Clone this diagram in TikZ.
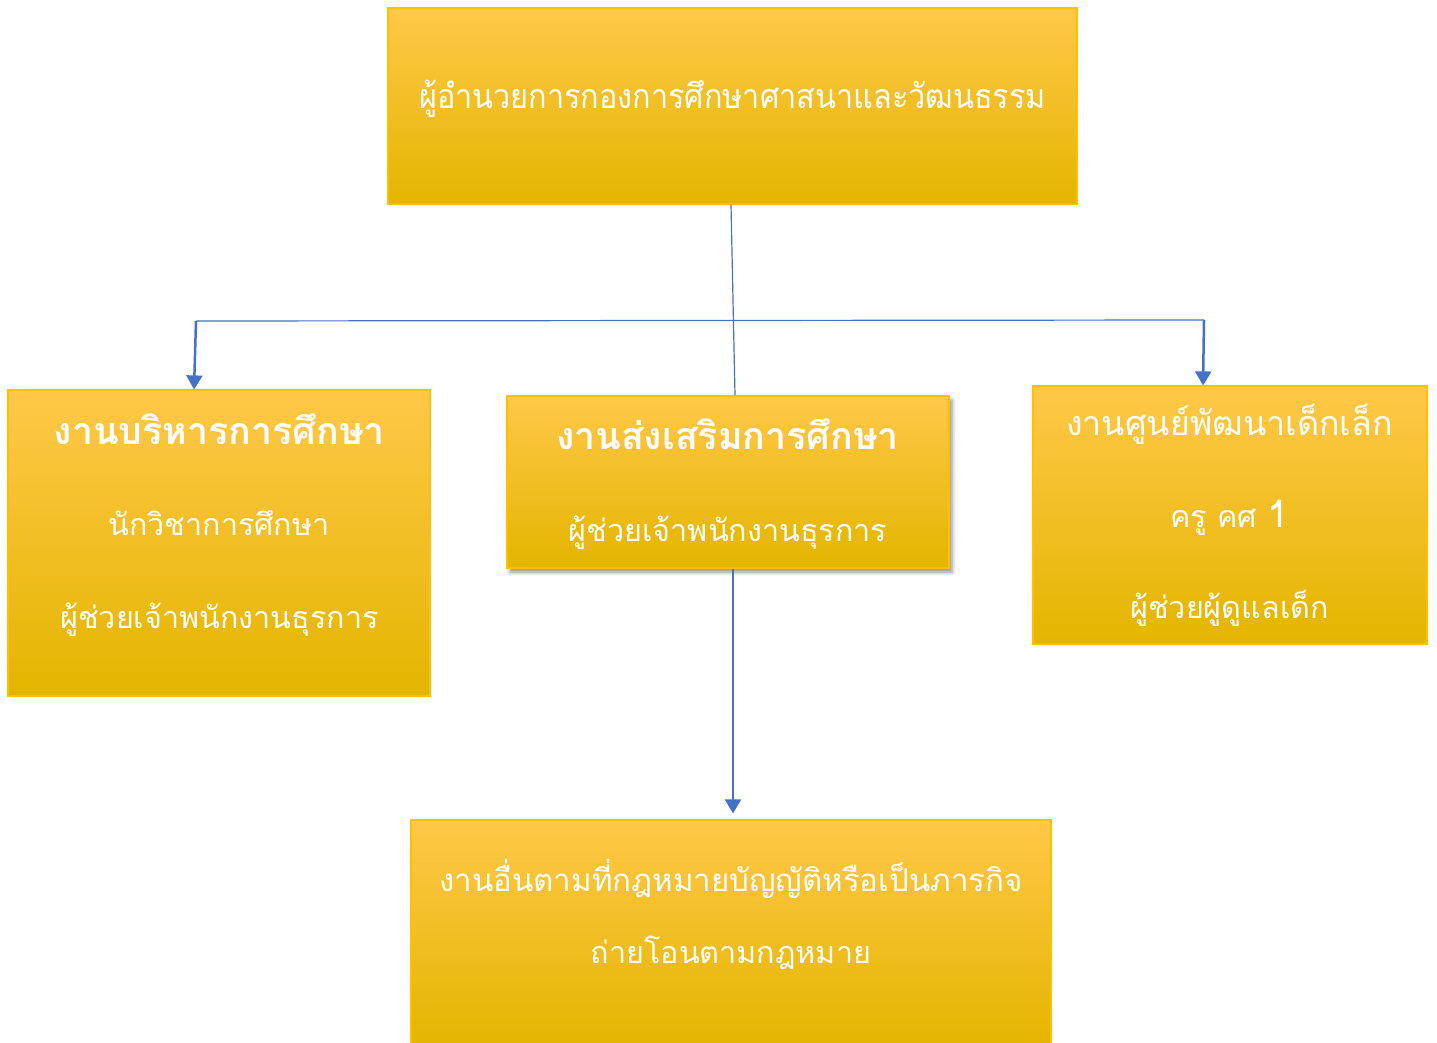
\documentclass[tikz,border=0pt]{standalone}
\usepackage{fontspec}
\setmainfont[Script=Thai]{Loma}
\newfontfamily\titlefont[Script=Thai, FakeStretch=0.9]{Loma}
\usetikzlibrary{arrows.meta,shadows.blur,calc}
\definecolor{boxtop}{HTML}{FFC848}
\definecolor{boxmid}{HTML}{FFC400}
\definecolor{boxbot}{HTML}{E4B500}
\definecolor{boxedge}{HTML}{FFC000}
\definecolor{conn}{HTML}{4472C4}
\tikzset{
  box/.style={rectangle, draw=boxedge, line width=1.2pt, top color=boxtop, middle color=boxmid, bottom color=boxbot, inner sep=0pt},
  txt/.style={text=white, anchor=base, inner sep=0pt, font=\fontsize{30.5}{36}\selectfont},
  hd/.style={text=white, anchor=base, inner sep=0pt, font=\bfseries\fontsize{37.5}{42}\selectfont},
  ttl/.style={text=white, anchor=base, inner sep=0pt, font=\titlefont\fontsize{34}{40}\selectfont},
  rhd/.style={text=white, anchor=base, inner sep=0pt, font=\fontsize{34}{40}\selectfont},
  thin/.style={draw=conn, line width=1.2pt},
  arr/.style={draw=conn, line width=2.5pt, -{Triangle[width=16pt,length=14pt]}},
}
\begin{document}
\begin{tikzpicture}[x=1pt,y=-1pt]
\useasboundingbox (0,0) rectangle (1437,1043);
% boxes
\node[box, minimum width=689pt, minimum height=196pt] (top) at (732.5,106) {};
\node[box, minimum width=422pt, minimum height=306pt] (left) at (219,543) {};
\node[box, minimum width=394pt, minimum height=258pt] (right) at (1230,515) {};
\node[box, minimum width=640pt, minimum height=226pt] (bot) at (731,933) {};
% connectors
\coordinate (j1) at (196,321);
\coordinate (j2) at (1204,320);
\draw[thin] (j1) -- (j2);
\draw[arr] (j1) -- ($(left.north)+(-25,0)$);
\draw[arr] (j2) -- ($(right.north)+(-27,0)$);
\node[box, blur shadow={shadow xshift=3pt, shadow yshift=-4pt, shadow blur radius=4pt, shadow opacity=45}, minimum width=442pt, minimum height=172pt] (mid) at (728,482) {};
\draw[thin] ($(top.south)+(-1.5,0)$) -- ($(mid.north)+(7,0)$);
\draw[arr, shorten >=6pt] ($(mid.south)+(5,0)$) -- ($(bot.north)+(2,0)$);
% texts
\node[ttl] (t0) at (732.5,109) {ผู้อำนวยการกองการศึกษาศาสนาและวัฒนธรรม};
\node[hd] (l1) at (219.5,444) {งานบริหารการศึกษา};
\node[txt] (l2) at (219,535) {นักวิชาการศึกษา};
\node[txt] (l3) at (219.5,628) {ผู้ช่วยเจ้าพนักงานธุรการ};
\node[hd] (m1) at (727.5,449) {งานส่งเสริมการศึกษา};
\node[txt] (m2) at (728,541) {ผู้ช่วยเจ้าพนักงานธุรการ};
\node[rhd] (r1) at (1229.5,435) {งานศูนย์พัฒนาเด็กเล็ก};
\node[txt] (r2) at (1229.5,527) {ครู คศ {\fontsize{38}{40}\selectfont 1}};
\node[txt] (r3) at (1229.5,618) {ผู้ช่วยผู้ดูแลเด็ก};
\node[txt, font=\fontsize{31.2}{36}\selectfont] (b1) at (731,891) {งานอื่นตามที่กฎหมายบัญญัติหรือเป็นภารกิจ};
\node[txt] (b2) at (731,963) {ถ่ายโอนตามกฎหมาย};
\end{tikzpicture}
\end{document}
